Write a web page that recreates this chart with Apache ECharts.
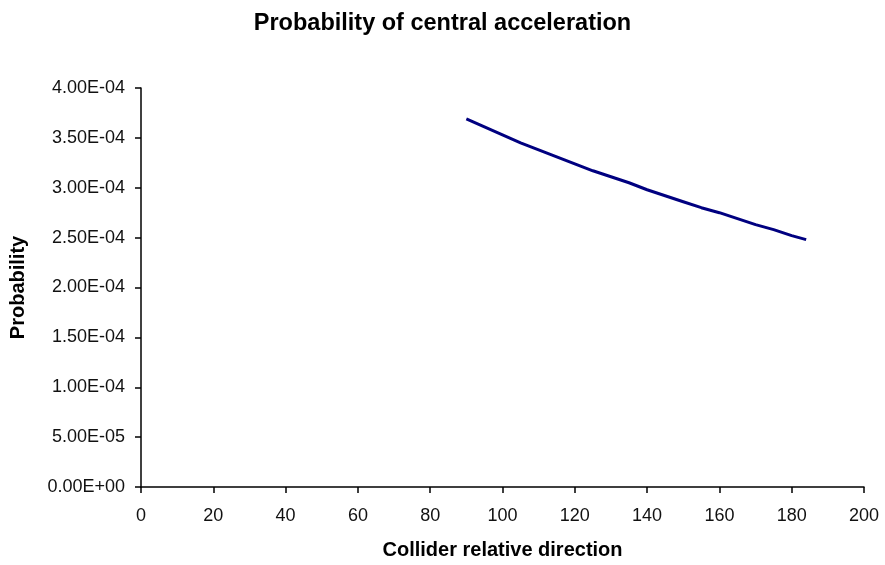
<!DOCTYPE html>
<html>
<head>
<meta charset="utf-8">
<script src="https://cdn.jsdelivr.net/npm/echarts@6/dist/echarts.min.js"></script>
<style>
  html, body { margin: 0; padding: 0; background: #fff; }
  #chart { width: 885px; height: 565px; }
</style>
</head>
<body>
<div id="chart"></div>
<script>
// Collider relative direction (degrees)
const directions = [90, 95, 100, 105, 110, 115, 120, 125, 130, 135, 140, 145, 150, 155, 160, 165, 170, 175, 180, 184];
// Probability of central acceleration at each direction
const probabilities = [3.69e-4, 3.61e-4, 3.53e-4, 3.45e-4, 3.38e-4, 3.31e-4, 3.24e-4, 3.17e-4, 3.11e-4, 3.05e-4,
                       2.98e-4, 2.92e-4, 2.86e-4, 2.80e-4, 2.75e-4, 2.69e-4, 2.63e-4, 2.58e-4, 2.52e-4, 2.48e-4];

const points = directions.map((d, i) => [d, probabilities[i]]);

// Spreadsheet-style scientific notation, e.g. 3.50E-04
function sci(v) {
  if (v === 0) return '0.00E+00';
  const parts = v.toExponential(2).split('e');
  const exp = parseInt(parts[1], 10);
  const sign = exp < 0 ? '-' : '+';
  const mag = String(Math.abs(exp)).padStart(2, '0');
  return parts[0] + 'E' + sign + mag;
}

const font = '"Liberation Sans", Arial, sans-serif';
const chart = echarts.init(document.getElementById('chart'), null, { renderer: 'canvas' });
chart.setOption({
  backgroundColor: '#ffffff',
  animation: false,
  title: {
    text: 'Probability of central acceleration',
    left: 'center',
    top: 7,
    textStyle: { fontFamily: font, fontSize: 23.5, fontWeight: 'bold', color: '#000' }
  },
  grid: { left: 141, right: 21, top: 88, bottom: 77 },
  xAxis: {
    type: 'value',
    min: 0,
    max: 200,
    interval: 20,
    name: 'Collider relative direction',
    nameLocation: 'middle',
    nameGap: 53,
    nameTextStyle: { fontFamily: font, fontSize: 20, fontWeight: 'bold', color: '#000' },
    axisLine: { show: true, lineStyle: { color: '#000', width: 1.5 } },
    axisTick: { show: true, length: 6, lineStyle: { color: '#000', width: 1.5 } },
    axisLabel: { fontFamily: font, fontSize: 18, color: '#111', margin: 20 },
    splitLine: { show: false }
  },
  yAxis: {
    type: 'value',
    min: 0,
    max: 4e-4,
    interval: 5e-5,
    name: 'Probability',
    nameLocation: 'middle',
    nameGap: 113,
    nameRotate: 90,
    nameTextStyle: { fontFamily: font, fontSize: 20, fontWeight: 'bold', color: '#000' },
    axisLine: { show: true, lineStyle: { color: '#000', width: 1.5 } },
    axisTick: { show: true, length: 6, lineStyle: { color: '#000', width: 1.5 } },
    axisLabel: { fontFamily: font, fontSize: 18, color: '#111', margin: 16, formatter: sci },
    splitLine: { show: false }
  },
  series: [{
    type: 'line',
    data: points,
    showSymbol: false,
    lineStyle: { color: '#000080', width: 3 },
    itemStyle: { color: '#000080' }
  }]
});
</script>
</body>
</html>
